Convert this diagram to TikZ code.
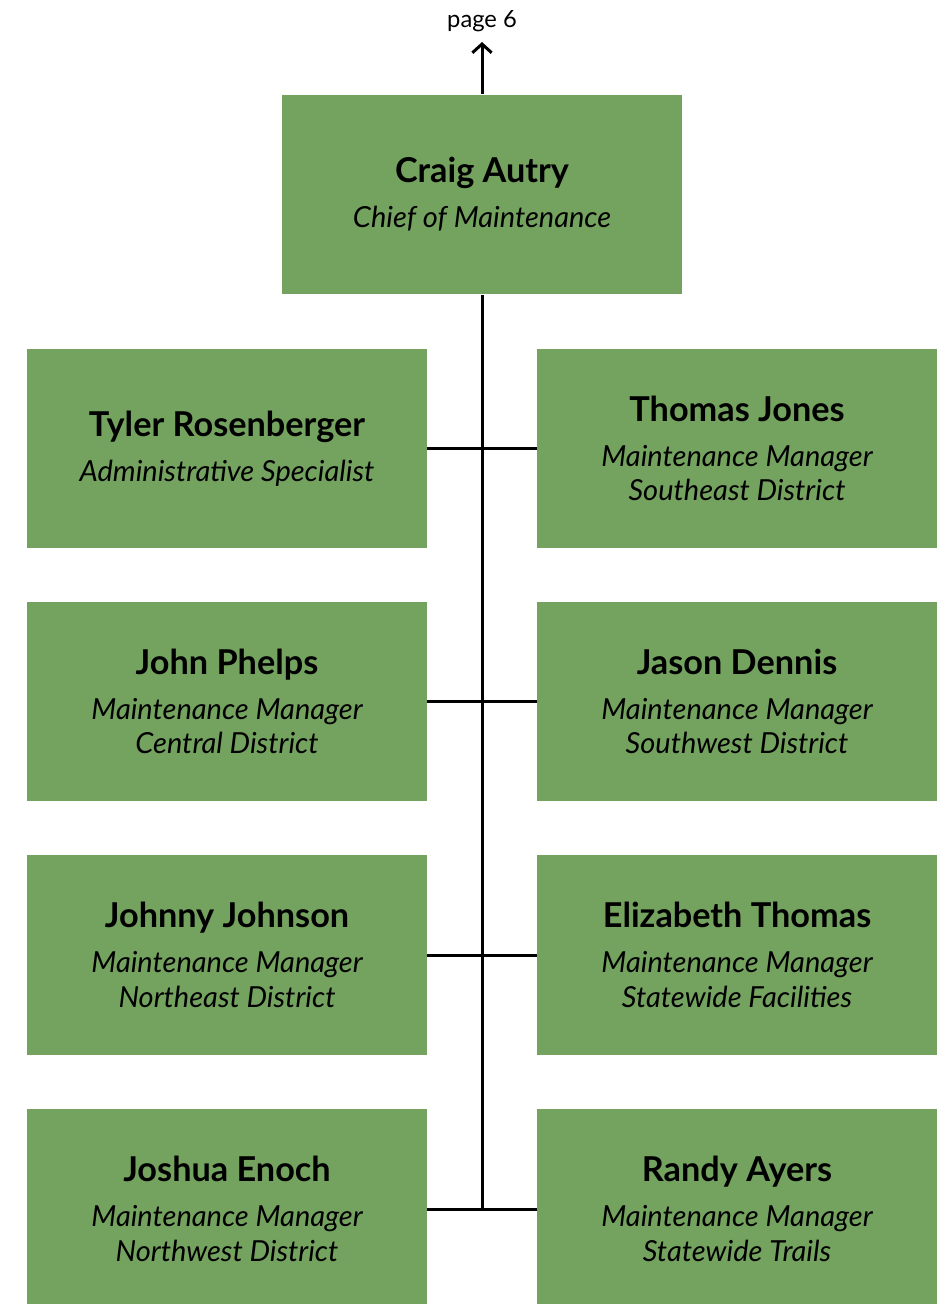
\documentclass[tikz,border=0pt]{standalone}
\usepackage{fontspec}
\setmainfont{Lato}
\usetikzlibrary{positioning,arrows.meta}
\definecolor{boxgreen}{RGB}{116,162,95}
\newcommand{\pname}[1]{{\fontsize{19.5}{22}\selectfont\bfseries\upshape #1}}

\begin{document}
\begin{tikzpicture}[x=0.02cm,y=-0.02cm,
    box/.style={fill=boxgreen, minimum width=8cm, minimum height=4cm, align=center,
        font=\fontsize{16.5}{19.6}\selectfont\itshape, inner sep=0pt},
    link/.style={line width=1.7pt}]
    \useasboundingbox (0,0) rectangle (947,1304);

    % Chief
    \node[box] (chief) at (482,194.5) {\pname{Craig Autry}\\[6pt] Chief of Maintenance};
    \node[font=\fontsize{13.5}{15}\selectfont] (page) at (482,21) {page 6};
    \coordinate (up) at (482,42);
    \draw[link,-{Straight Barb[length=5pt,width=11pt]}] (chief.north) -- (up);

    % Left column
    \node[box] (admin) at (227,448.5) {\pname{Tyler Rosenberger}\\[6pt] Administrative Specialist};
    \node[box] (central) at (227,701.5) {\pname{John Phelps}\\[6pt] Maintenance Manager\\ Central District};
    \node[box] (northeast) at (227,955) {\pname{Johnny Johnson}\\[6pt] Maintenance Manager\\ Northeast District};
    \node[box] (northwest) at (227,1209) {\pname{Joshua Enoch}\\[6pt] Maintenance Manager\\ Northwest District};

    % Right column
    \node[box] (southeast) at (737,448.5) {\pname{Thomas Jones}\\[6pt] Maintenance Manager\\ Southeast District};
    \node[box] (southwest) at (737,701.5) {\pname{Jason Dennis}\\[6pt] Maintenance Manager\\ Southwest District};
    \node[box] (facilities) at (737,955) {\pname{Elizabeth Thomas}\\[6pt] Maintenance Manager\\ Statewide Facilities};
    \node[box] (trails) at (737,1209) {\pname{Randy Ayers}\\[6pt] Maintenance Manager\\ Statewide Trails};

    % Connectors
    \coordinate (trunk) at (482,1209);
    \draw[link] (chief.south) -- (trunk);
    \draw[link] (admin.east) -- (southeast.west);
    \draw[link] (central.east) -- (southwest.west);
    \draw[link] (northeast.east) -- (facilities.west);
    \draw[link] (northwest.east) -- (trails.west);
\end{tikzpicture}
\end{document}
